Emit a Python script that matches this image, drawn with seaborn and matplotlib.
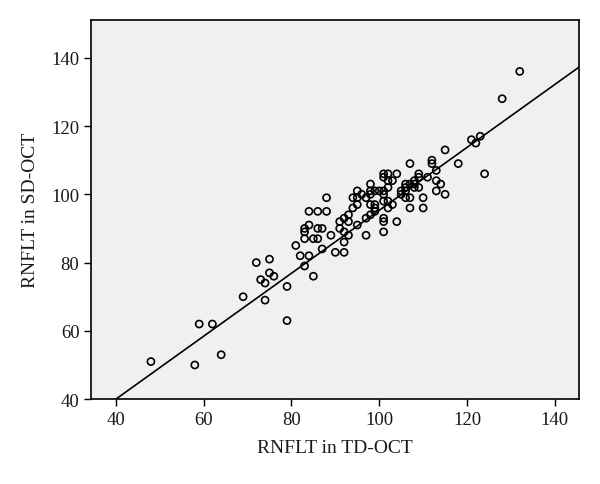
import numpy as np
import pandas as pd
import matplotlib
matplotlib.use("Agg")
import matplotlib.pyplot as plt
import seaborn as sns

# RNFLT values (TD-OCT vs SD-OCT)
td_oct = [48, 58, 59, 62, 64, 69, 72, 73, 74, 74, 75, 75, 76, 79, 79,
          81, 82, 83, 83, 83, 83, 84, 84, 84, 85, 85, 86, 86, 86, 87, 87,
          88, 88, 89, 90, 91, 91, 92, 92, 92, 92, 93, 93, 93, 94, 94,
          95, 95, 95, 95, 96, 97, 97, 97, 98, 98, 98, 98, 98,
          99, 99, 99, 99, 100, 101, 101, 101, 101, 101, 101, 101, 101,
          102, 102, 102, 102, 102, 103, 103, 104, 104, 105, 105,
          106, 106, 106, 106, 107, 107, 107, 107, 108, 108, 108,
          109, 109, 109, 110, 110, 111, 112, 112, 113, 113, 113, 114,
          115, 115, 118, 121, 122, 123, 124, 128, 132]
sd_oct = [51, 50, 62, 62, 53, 70, 80, 75, 74, 69, 81, 77, 76, 73, 63,
          85, 82, 90, 89, 87, 79, 95, 91, 82, 87, 76, 95, 90, 87, 90, 84,
          99, 95, 88, 83, 92, 90, 93, 89, 86, 83, 94, 92, 88, 99, 96,
          101, 99, 97, 91, 100, 99, 93, 88, 103, 101, 100, 97, 94,
          101, 97, 96, 95, 101, 106, 105, 101, 100, 98, 93, 92, 89,
          106, 104, 102, 98, 96, 104, 97, 106, 92, 101, 100,
          103, 102, 101, 99, 109, 103, 99, 96, 104, 103, 102,
          106, 105, 102, 99, 96, 105, 110, 109, 107, 104, 101, 103,
          113, 100, 109, 116, 115, 117, 106, 128, 136]

# fit line as drawn in the figure
line_intercept = 3.1
line_slope = 0.922

df = pd.DataFrame({"td": td_oct, "sd": sd_oct})

sns.set_style("ticks")
plt.rcParams["font.family"] = ["Liberation Serif", "DejaVu Serif"]

fig = plt.figure(figsize=(6, 4.85), dpi=100)
ax = fig.add_axes([0.152, 0.175, 0.813, 0.782])
ax.set_facecolor("#f0f0f0")

sns.scatterplot(data=df, x="td", y="sd", ax=ax, s=26, marker="o",
                facecolors="none", edgecolor="black", linewidth=1.2)
ax.axline((0, line_intercept), slope=line_slope, color="black", linewidth=1.2)

ax.set_xlim(34.4, 145.5)
ax.set_ylim(40, 151.1)
ax.set_xticks([40, 60, 80, 100, 120, 140])
ax.set_yticks([40, 60, 80, 100, 120, 140])
ax.tick_params(labelsize=13.5, length=5, width=1, color="black", labelcolor="#1a1a1a")
for sp in ax.spines.values():
    sp.set_color("black")
    sp.set_linewidth(1.2)

ax.set_xlabel("RNFLT in TD-OCT", fontsize=14, color="#1a1a1a", labelpad=8)
ax.set_ylabel("RNFLT in SD-OCT", fontsize=14, color="#1a1a1a", labelpad=9)

fig.savefig("out.png", dpi=100)
